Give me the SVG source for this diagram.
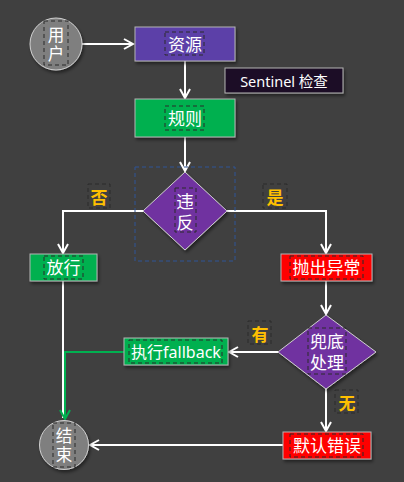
<svg xmlns="http://www.w3.org/2000/svg" width="404" height="482" viewBox="0 0 404 482">
<defs>
<filter id="sh" x="-20%" y="-20%" width="150%" height="160%">
<feDropShadow dx="1.5" dy="2.5" stdDeviation="1.5" flood-color="#000" flood-opacity="0.45"/>
</filter>
<marker id="aw" viewBox="0 0 12 12" refX="10" refY="6" markerWidth="12" markerHeight="12" markerUnits="userSpaceOnUse" orient="auto">
<path d="M1,1 L10,6 L1,11" fill="none" stroke="#ffffff" stroke-width="2"/>
</marker>
<marker id="ag" viewBox="0 0 12 12" refX="10" refY="6" markerWidth="12" markerHeight="12" markerUnits="userSpaceOnUse" orient="auto">
<path d="M1,1 L10,6 L1,11" fill="none" stroke="#00b050" stroke-width="2"/>
</marker>
</defs>
<style>
.t{font-family:"Noto Sans","Noto Sans CJK SC",sans-serif;font-size:17px;fill:#ffffff;text-anchor:middle;dominant-baseline:central}
.v{font-family:"Liberation Sans","Noto Sans CJK SC",sans-serif;font-size:16.5px;fill:#ffffff;text-anchor:middle}
.lb{font-family:"Noto Sans CJK SC","Noto Sans",sans-serif;font-size:17px;font-weight:bold;fill:#ffc000;text-anchor:middle;dominant-baseline:central}
.tb{fill:none;stroke:#2a2a2a;stroke-width:1;stroke-dasharray:4 3}
.bx{stroke:#b4b4b4;stroke-width:1}
.ln{fill:none;stroke:#ffffff;stroke-width:2}
</style>
<rect width="404" height="482" fill="#404040"/>
<g id="connectors">
<line class="ln" x1="82" y1="44" x2="133" y2="44" marker-end="url(#aw)"/>
<line class="ln" x1="185" y1="61" x2="185" y2="98" marker-end="url(#aw)"/>
<line class="ln" x1="185" y1="137" x2="185" y2="171" marker-end="url(#aw)"/>
<polyline class="ln" points="143,211 63,211 63,253" marker-end="url(#aw)"/>
<polyline class="ln" points="227,211 326,211 326,253" marker-end="url(#aw)"/>
<line class="ln" x1="326" y1="281" x2="326" y2="314" marker-end="url(#aw)"/>
<line class="ln" x1="278" y1="352" x2="229" y2="352" marker-end="url(#aw)"/>
<line class="ln" x1="326" y1="388" x2="326" y2="431" marker-end="url(#aw)"/>
<line class="ln" x1="283" y1="445" x2="90" y2="445" marker-end="url(#aw)"/>
<line class="ln" x1="63" y1="281" x2="63" y2="418"/>
<polyline points="124,352 65,352 65,419" fill="none" stroke="#00b050" stroke-width="2" marker-end="url(#ag)"/>
</g>
<g id="labels">
<rect class="tb" x="88" y="184" width="22" height="24"/>
<text class="lb" x="99" y="196.5">否</text>
<rect class="tb" x="263" y="184" width="24" height="24"/>
<text class="lb" x="275" y="196.5">是</text>
<rect class="tb" x="248" y="321" width="23" height="23"/>
<text class="lb" x="260" y="333.5">有</text>
<rect class="tb" x="335" y="390" width="23" height="23"/>
<text class="lb" x="347" y="402">无</text>
</g>
<g id="user">
<circle cx="56" cy="44" r="26" fill="#7f7f7f" stroke="#d0d0d0" stroke-width="1" filter="url(#sh)"/>
<rect class="tb" x="44" y="21" width="24" height="44"/>
<text class="v"><tspan x="56" y="40.5">用</tspan><tspan x="56" y="60">户</tspan></text>
</g>
<g id="resource">
<rect class="bx" x="135" y="27" width="100" height="34" fill="#5b3fa8" filter="url(#sh)"/>
<rect class="tb" x="165" y="32" width="39" height="23"/>
<text class="t" x="185" y="44">资源</text>
</g>
<g id="sentinel">
<rect class="bx" x="225" y="68" width="118" height="25" fill="#1c1025" filter="url(#sh)"/>
<text class="t" x="284" y="80.5" style="font-size:14.5px">Sentinel 检查</text>
</g>
<g id="rule">
<rect class="bx" x="135" y="99" width="100" height="38" fill="#00b050" filter="url(#sh)"/>
<rect class="tb" x="165" y="106" width="39" height="24"/>
<text class="t" x="185" y="118">规则</text>
</g>
<g id="violate">
<rect x="135" y="167" width="100" height="94" fill="none" stroke="#2f5597" stroke-width="1" stroke-dasharray="4 3"/>
<polygon points="185,172 227,211 185,250 143,211" fill="#7030a0" stroke="#d0d0d0" stroke-width="1" filter="url(#sh)"/>
<rect class="tb" x="175" y="188" width="21" height="44"/>
<text class="v" style="font-size:17.5px"><tspan x="185" y="208">违</tspan><tspan x="185" y="229">反</tspan></text>
</g>
<g id="pass">
<rect class="bx" x="30" y="254" width="67" height="27" fill="#00b050" filter="url(#sh)"/>
<rect class="tb" x="44" y="256" width="39" height="23"/>
<text class="t" x="63.5" y="267.5">放行</text>
</g>
<g id="throw">
<rect class="bx" x="281" y="254" width="91" height="27" fill="#ff0000" filter="url(#sh)"/>
<rect class="tb" x="290" y="256" width="73" height="23"/>
<text class="t" x="326.5" y="267.5">抛出异常</text>
</g>
<g id="fallback-check">
<polygon points="326,315 376,352 326,389 278,352" fill="#7030a0" stroke="#d0d0d0" stroke-width="1" filter="url(#sh)"/>
<rect class="tb" x="308" y="328" width="38" height="46"/>
<text class="v" style="font-size:17px"><tspan x="327" y="348">兜底</tspan><tspan x="327" y="369">处理</tspan></text>
</g>
<g id="fallback">
<rect class="bx" x="124" y="338" width="104" height="27" fill="#00b050" filter="url(#sh)"/>
<rect class="tb" x="129" y="340" width="93" height="23"/>
<text class="t" x="176" y="351.5" style="font-size:16px">执行fallback</text>
</g>
<g id="default-error">
<rect class="bx" x="283" y="432" width="88" height="27" fill="#ff0000" filter="url(#sh)"/>
<rect class="tb" x="290" y="434" width="73" height="23"/>
<text class="t" x="327" y="445.5">默认错误</text>
</g>
<g id="end">
<circle cx="64" cy="445" r="24.5" fill="#7f7f7f" stroke="#d0d0d0" stroke-width="1" filter="url(#sh)"/>
<rect class="tb" x="53" y="423" width="22" height="44"/>
<text class="v"><tspan x="64" y="441.5">结</tspan><tspan x="64" y="461">束</tspan></text>
</g>
</svg>
